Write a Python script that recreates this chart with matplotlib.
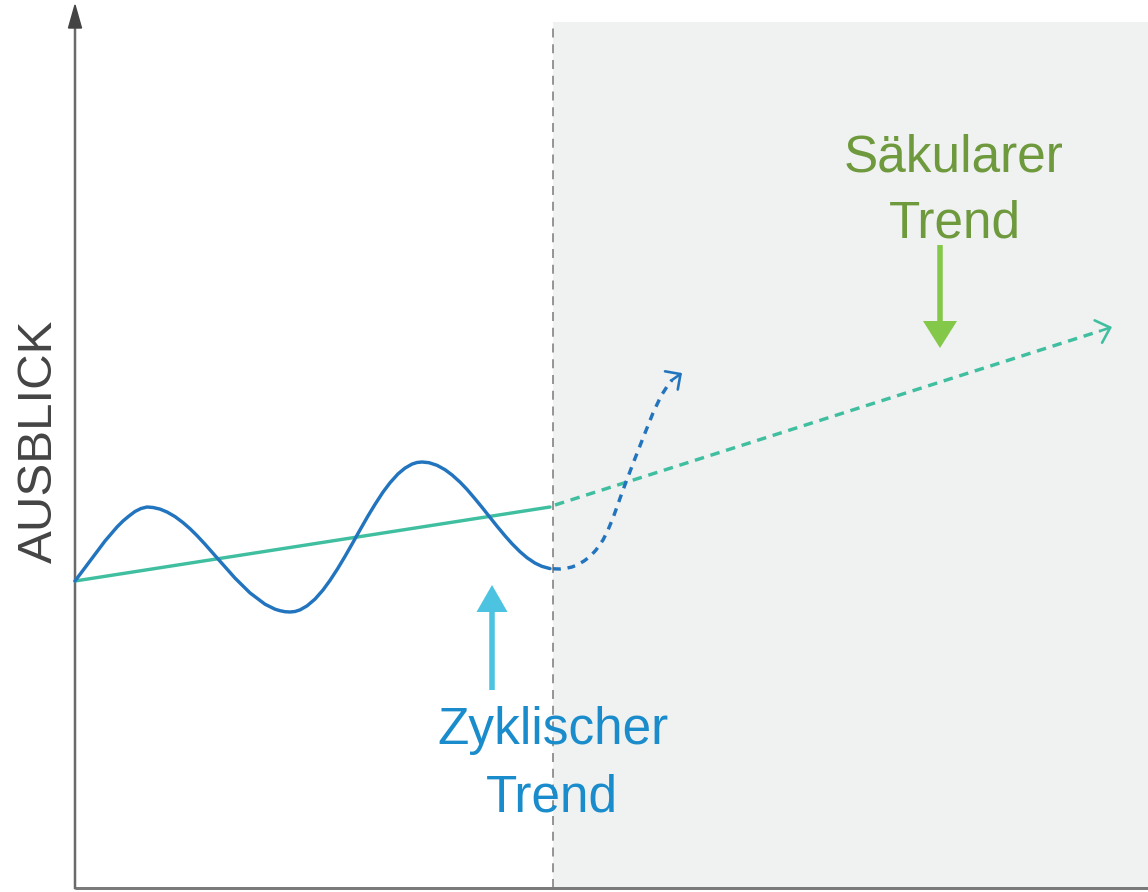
import matplotlib
matplotlib.use("Agg")
import matplotlib.pyplot as plt
from matplotlib.patches import Rectangle, FancyArrow

# ---- data (chart units: x = time, y = level) ----
wave_x = [0, 6, 12, 18, 24, 30, 36, 42, 48, 54, 60, 66, 72, 78, 85, 92, 100, 108, 115, 122,
          130, 145, 160, 175, 190, 200, 205, 210, 215, 220, 225, 232, 240, 248, 255, 263,
          270, 278, 285, 293, 300, 308, 315, 323, 330, 337, 342, 347, 354, 362, 370, 377,
          385, 392, 400, 407, 415, 422, 430, 437, 445, 452, 460, 467, 475]
wave_y = [307, 315, 323, 331, 339, 347, 354, 361, 367, 372, 376.5, 379.5, 381, 380.5, 378.9,
          376.0, 371.4, 365.4, 359.3, 352.4, 343.8, 326.8, 309.9, 295.1, 283.8, 278.8, 277.3,
          276.3, 276, 276.5, 278.1, 282.1, 288.9, 298, 307.6, 319.9, 331.6, 345.6, 358.1,
          372.1, 383.6, 395.9, 405.2, 414.1, 419.9, 423.9, 425.5, 426, 425.3, 422.7, 418.3,
          413.1, 405.9, 398.6, 389.2, 380.7, 370.6, 361.8, 352.2, 344.3, 336.3, 330.3, 324.9,
          321.6, 319.4]

wave_fc_x = [478, 485, 490, 497, 503, 509, 515, 521, 528, 533, 538, 543, 548, 559, 570, 578,
             586, 593, 597]
wave_fc_y = [319.2, 319, 319.5, 321, 323.5, 327, 331.5, 338, 348, 358, 370, 384, 398, 427,
             455, 475, 492, 503, 508]
wave_tip = (607, 515)

trend_x = [0, 475]
trend_y = [307, 381]
trend_fc_x = [480, 1025]
trend_fc_y = [383, 557]
trend_tip = (1037, 561)

split_x = 478
x_end = 1073
y_top = 866

label_secular = ["Säkularer", "Trend"]
label_cyclic = ["Zyklischer", "Trend"]
y_label = "AUSBLICK"

# ---- styles ----
c_wave = "#2174bd"
c_trend = "#3fbf9f"
c_cyc_txt = "#1a8ccb"
c_sec_txt = "#6e9a3d"
c_cyc_arrow = "#4cc3e0"
c_sec_arrow = "#84c84a"
c_shade = "#f0f1f1"
px = 0.72  # points per pixel at dpi 100
lw = 3.4 * px

fig = plt.figure(figsize=(11.48, 8.92), dpi=100)
ax = fig.add_axes([0, 0, 1, 1])
ax.set_xlim(-75, 1073)
ax.set_ylim(-4, 888)
ax.axis("off")

font = ["Liberation Sans", "DejaVu Sans"]

# shaded future region
ax.add_patch(Rectangle((split_x, 0), x_end - split_x, y_top, facecolor=c_shade,
                       edgecolor="none", zorder=0))
ax.plot([split_x, split_x], [0, y_top], color="#777777", lw=1.5 * px,
        dashes=(6, 4.5), zorder=1)

# axes
ax.plot([0, x_end], [0, 0], color="#7a7a7a", lw=3 * px, solid_capstyle="butt", zorder=3)
ax.plot([0, 0], [0, 868], color="#6a6a6a", lw=2.5 * px, zorder=3)
ax.add_patch(FancyArrow(0, 860, 0, 23, width=0, head_width=13, head_length=23,
                        length_includes_head=True, color="#444444", zorder=4))

# trend lines
ax.plot(trend_x, trend_y, color=c_trend, lw=lw, solid_capstyle="round", zorder=5)
ax.plot(trend_fc_x, trend_fc_y, color=c_trend, lw=lw, dashes=(2.8, 2.0), zorder=5)
ax.annotate("", xy=trend_tip, xytext=(trend_fc_x[-1], trend_fc_y[-1]),
            arrowprops=dict(arrowstyle="->,head_length=0.9,head_width=0.85",
                            color=c_trend, lw=2.6 * px, shrinkA=0, shrinkB=0), zorder=5)

# cyclic wave
ax.plot(wave_x, wave_y, color=c_wave, lw=lw, solid_capstyle="round",
        solid_joinstyle="round", zorder=6)
ax.plot(wave_fc_x, wave_fc_y, color=c_wave, lw=lw, dashes=(2.3, 2.0), zorder=6)
ax.annotate("", xy=wave_tip, xytext=(wave_fc_x[-1], wave_fc_y[-1]),
            arrowprops=dict(arrowstyle="->,head_length=0.8,head_width=0.8",
                            color=c_wave, lw=2.6 * px, shrinkA=0, shrinkB=0), zorder=6)

# pointer arrows
ax.add_patch(FancyArrow(417, 198, 0, 105, width=5.5, head_width=31, head_length=27,
                        length_includes_head=True, color=c_cyc_arrow, lw=0, zorder=7))
ax.add_patch(FancyArrow(865, 643, 0, -103, width=5.5, head_width=34, head_length=27,
                        length_includes_head=True, color=c_sec_arrow, lw=0, zorder=7))

# labels
fs = 37
ax.text(879, 888 - 171, label_secular[0], color=c_sec_txt, fontsize=fs, family=font,
        ha="center", va="baseline")
ax.text(880, 888 - 238, label_secular[1], color=c_sec_txt, fontsize=fs, family=font,
        ha="center", va="baseline")
ax.text(478, 888 - 744, label_cyclic[0], color=c_cyc_txt, fontsize=fs, family=font,
        ha="center", va="baseline")
ax.text(477, 888 - 812, label_cyclic[1], color=c_cyc_txt, fontsize=fs, family=font,
        ha="center", va="baseline")
ax.text(-36, 888 - 441, y_label, color="#444444", fontsize=35.5, family=font,
        rotation=90, ha="center", va="center")

fig.savefig("out.png", dpi=100)
